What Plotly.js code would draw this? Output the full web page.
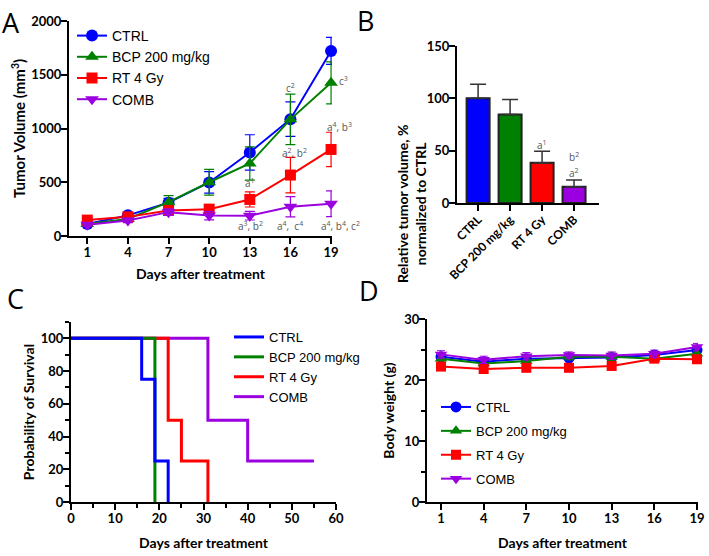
<!DOCTYPE html>
<html><head><meta charset="utf-8">
<script src="https://cdn.plot.ly/plotly-3.0.1.min.js"></script>
<style>body{margin:0;background:#fff}#p{width:709px;height:556px}</style>
</head><body><div id="p"></div>
<script>
// ---------- data ----------
const groups = ["CTRL", "BCP 200 mg/kg", "RT 4 Gy", "COMB"];
const colors = ["#0000ff", "#008000", "#ff0000", "#9b00e0"];
const symbols = ["circle", "triangle-up", "square", "triangle-down"];
const days = [1, 4, 7, 10, 13, 16, 19];
// Panel A: tumor volume (mm3) and error
const volCTRL = [112, 192, 310, 498, 777, 1087, 1722];
const volBCP  = [112, 158, 315, 500, 675, 1085, 1425];
const volRT   = [148, 178, 238, 250, 340, 567, 805];
const volCOMB = [105, 145, 222, 190, 189, 272, 300];
const errCTRL = [25, 20, 40, 100, 165, 160, 125];
const errBCP  = [20, 20, 60, 120, 155, 235, 195];
const errRT   = [20, 20, 30, 35, 70, 165, 160];
const errCOMB = [15, 20, 30, 40, 40, 95, 120];
// Panel B: relative tumor volume (%)
const relVol = [100, 84.5, 38.5, 15.5];
const relErr = [13.5, 14.5, 11, 6.5];
// Panel C: survival (%)
const survCTRLx = [0, 16, 19, 22], survCTRLy = [100, 75, 25, 0];
const survBCPx  = [0, 19],         survBCPy  = [100, 0];
const survRTx   = [0, 22, 25, 31], survRTy   = [100, 50, 25, 0];
const survCOMBx = [0, 31, 40, 55], survCOMBy = [100, 50, 25, 25];
// Panel D: body weight (g)
const bwCTRL = [23.8, 23.0, 23.5, 23.6, 23.7, 24.1, 24.9];
const bwBCP  = [23.5, 22.7, 23.1, 23.8, 23.8, 23.5, 24.3];
const bwRT   = [22.2, 21.8, 22.0, 22.0, 22.3, 23.5, 23.4];
const bwCOMB = [24.2, 23.3, 23.9, 24.1, 24.0, 24.3, 25.4];
const bwErr  = [0.6, 0.6, 0.6, 0.5, 0.6, 0.6, 0.6];

// ---------- helpers ----------
const W = 709, H = 556;
const fx = p => p / W, fy = p => 1 - p / H;
const tickFont = {family: "Lato, 'Open Sans', sans-serif", size: 13, color: "#000", weight: "bold"};
const titleFont = {family: "Lato, 'Open Sans', sans-serif", size: 14, color: "#000", weight: "bold"};
const legFont = {family: "'Liberation Sans Narrow', 'Liberation Sans', Arial, sans-serif", size: 14, color: "#000"};
function ax(o) {
  return Object.assign({
    showline: true, linecolor: "#000", linewidth: 2, mirror: false,
    ticks: "outside", ticklen: 6, tickwidth: 2, tickcolor: "#000", ticklabelstandoff: -3,
    showgrid: false, zeroline: false, tickfont: tickFont, fixedrange: true
  }, o);
}

const traces = [];
const vols = [volCTRL, volBCP, volRT, volCOMB];
const errs = [errCTRL, errBCP, errRT, errCOMB];
const bws = [bwCTRL, bwBCP, bwRT, bwCOMB];
for (let i = 0; i < 4; i++) {
  traces.push({
    x: days, y: vols[i], type: "scatter", mode: "lines+markers", name: groups[i],
    xaxis: "x", yaxis: "y", legend: "legend",
    line: {color: colors[i], width: 2},
    marker: {symbol: symbols[i], size: i === 2 ? 11 : 12, color: colors[i]},
    error_y: {type: "data", array: errs[i], color: colors[i], thickness: 1.2, width: 5},
    cliponaxis: false, legendgroup: "a" + i
  });
}
traces.push({
  x: groups, y: relVol, type: "bar", xaxis: "x2", yaxis: "y2", showlegend: false,
  marker: {color: colors, line: {color: "#222", width: 2}}, width: 0.72,
  error_y: {type: "data", symmetric: false, array: relErr, arrayminus: [0, 0, 0, 0], color: "#333", thickness: 1.5, width: 8}
});
const sx = [survCTRLx, survBCPx, survRTx, survCOMBx];
const sy = [survCTRLy, survBCPy, survRTy, survCOMBy];
for (const i of [3, 2, 1, 0]) {
  traces.push({
    x: sx[i], y: sy[i], type: "scatter", mode: "lines", name: groups[i],
    xaxis: "x3", yaxis: "y3", legend: "legend2", legendgroup: "c" + i, legendrank: i + 1,
    line: {color: colors[i], width: 3, shape: "hv"}, cliponaxis: false
  });
}
for (let i = 0; i < 4; i++) {
  traces.push({
    x: days, y: bws[i], type: "scatter", mode: "lines+markers", name: groups[i],
    xaxis: "x4", yaxis: "y4", legend: "legend3", legendgroup: "d" + i,
    line: {color: colors[i], width: 2},
    marker: {symbol: symbols[i], size: i === 2 ? 10 : 11, color: colors[i]},
    error_y: {type: "data", array: bwErr, color: colors[i], thickness: 1, width: 4},
    cliponaxis: false
  });
}

const annFont = {family: "'Open Sans', sans-serif", size: 10, color: "#555"};
function a(x, y, t, xs, xr, yr) {
  return {x: x, y: y, text: t, xref: xr || "x", yref: yr || "y", showarrow: false, font: annFont, xshift: xs || 0};
}
const letter = (t, x, y) => ({text: t, x: fx(x), y: fy(y), xref: "paper", yref: "paper", showarrow: false,
  font: {family: "'Open Sans', sans-serif", size: 27, color: "#000"}, xanchor: "left", yanchor: "top"});

const layout = {
  width: W, height: H, margin: {l: 0, r: 0, t: 0, b: 0},
  paper_bgcolor: "#fff", plot_bgcolor: "rgba(0,0,0,0)",
  xaxis: ax({domain: [fx(69), fx(332)], range: [-0.35, 19.07], tickvals: days, anchor: "y",
    title: {text: "Days after treatment", font: titleFont, standoff: 11}}),
  yaxis: ax({domain: [fy(236), fy(21)], range: [0, 2000], tickvals: [0, 500, 1000, 1500, 2000], anchor: "x",
    title: {text: "Tumor Volume (mm<sup>3</sup>)", font: Object.assign({}, titleFont, {size: 15}), standoff: 2}}),
  xaxis2: ax({domain: [fx(457), fx(599)], range: [-0.66, 3.78], anchor: "y2", tickangle: -45,
    tickfont: Object.assign({}, tickFont, {size: 12})}),
  yaxis2: ax({domain: [fy(203), fy(46)], range: [0, 150], tickvals: [0, 50, 100, 150], anchor: "x2"}),
  xaxis3: ax({domain: [fx(71), fx(336)], range: [0, 60], tickvals: [0, 10, 20, 30, 40, 50, 60], anchor: "y3",
    minor: {dtick: 5, ticks: "outside", ticklen: 4, tickwidth: 2, tickcolor: "#000"},
    title: {text: "Days after treatment", font: titleFont, standoff: 14}}),
  yaxis3: ax({domain: [fy(502), fy(322)], range: [0, 110], tickvals: [0, 20, 40, 60, 80, 100], anchor: "x3",
    minor: {dtick: 10, ticks: "outside", ticklen: 4, tickwidth: 2, tickcolor: "#000"},
    title: {text: "Probability of Survival", font: titleFont, standoff: 3}}),
  xaxis4: ax({domain: [fx(427), fx(698)], range: [0.015, 19.07], tickvals: days, anchor: "y4",
    title: {text: "Days after treatment", font: titleFont, standoff: 14}}),
  yaxis4: ax({domain: [fy(502), fy(319)], range: [0, 30], tickvals: [0, 10, 20, 30], anchor: "x4",
    minor: {dtick: 5, ticks: "outside", ticklen: 4, tickwidth: 2, tickcolor: "#000"},
    title: {text: "Body weight (g)", font: titleFont, standoff: 6}}),
  legend: {x: fx(72), y: fy(20), xanchor: "left", yanchor: "top", font: legFont, bgcolor: "rgba(0,0,0,0)",
    tracegroupgap: 0, itemwidth: 30},
  legend2: {x: fx(229), y: fy(322), xanchor: "left", yanchor: "top", font: Object.assign({}, legFont, {size: 13}),
    bgcolor: "rgba(0,0,0,0)", tracegroupgap: 0, itemwidth: 30},
  legend3: {x: fx(436), y: fy(392), xanchor: "left", yanchor: "top", font: Object.assign({}, legFont, {size: 13}),
    bgcolor: "rgba(0,0,0,0)", tracegroupgap: 4, itemwidth: 30},
  annotations: [
    letter("A", 0, 2), letter("B", 355, 0), letter("C", 5, 278), letter("D", 357, 270),
    {text: "Relative tumor volume, %<br>normalized to CTRL", x: fx(412), y: fy(123), xref: "paper", yref: "paper",
      showarrow: false, textangle: -90, font: titleFont},
    a(16, 1377, "c<sup>2</sup>"), a(19, 1440, "c<sup>3</sup>", 12),
    a(19, 1014, "a<sup>4</sup>, b<sup>3</sup>", 8), a(16.3, 772, "a<sup>2</sup>, b<sup>2</sup>"),
    a(13, 493, "a<sup>1</sup>"),
    a(13.05, 95, "a<sup>3</sup>, b<sup>2</sup>"), a(16.0, 95, "a<sup>4</sup>,  c<sup>4</sup>"),
    a(19, 95, "a<sup>4</sup>, b<sup>4</sup>, c<sup>2</sup>", 9),
    a("RT 4 Gy", 55.5, "a<sup>1</sup>", 0, "x2", "y2"),
    a("COMB", 44, "b<sup>2</sup>", 0, "x2", "y2"),
    a("COMB", 29, "a<sup>2</sup>", 0, "x2", "y2")
  ]
};
Plotly.newPlot("p", traces, layout, {staticPlot: true});
</script></body></html>
